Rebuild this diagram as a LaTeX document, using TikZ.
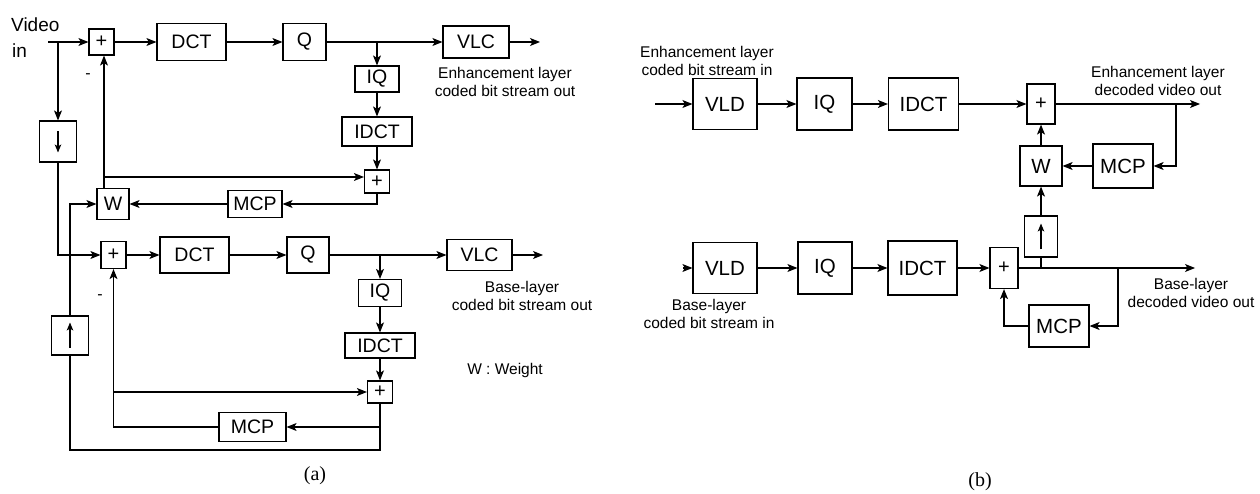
\documentclass[tikz,border=0pt]{standalone}
\usepackage{fontspec}
\setmainfont{Liberation Sans}
\newfontfamily\capfont{Liberation Serif}
\usetikzlibrary{arrows.meta,calc}
\begin{document}
\begin{tikzpicture}[x=1pt,y=-1pt,
  box/.style={draw,line width=1.2pt,inner sep=0pt,font=\fontsize{19.5}{22}\selectfont},
  boxb/.style={box,font=\fontsize{20.5}{23}\selectfont},
  pl/.style={box,font=\fontsize{20}{22}\selectfont},
  sz/.style 2 args={minimum width=#1pt,minimum height=#2pt},
  ln/.style={line width=1.1pt},
  arr/.style={ln,-{Stealth[length=10pt,width=8pt,inset=2.5pt]}},
  sarr/.style={ln,-{Stealth[length=8pt,width=6.5pt,inset=2pt]}},
  lbl/.style={align=center,font=\fontsize{15.5}{18.5}\selectfont,inner sep=0pt},
  captext/.style={font=\capfont\fontsize{20}{24}\selectfont,inner sep=0pt}]
\useasboundingbox[fill=white] (0,0) rectangle (1260,494);

% ---------------- panel (a) ----------------
\node[anchor=base west,inner sep=0pt,font=\fontsize{19}{22}\selectfont] (vid) at (11,32) {Video};
\node[anchor=base west,inner sep=0pt,font=\fontsize{19}{22}\selectfont] (vin) at (12,58) {in};

\node[pl,sz={25}{26}] (plusA1) at (101.5,42) {+};
\node[box,sz={69}{37}] (dctA1) at (191.5,42) {DCT};
\node[box,sz={43}{37}] (qA1) at (304.5,42) {Q};
\node[box,sz={66}{32}] (vlcA1) at (476,42) {VLC};
\node[box,sz={44}{26}] (iqA1) at (377,79) {IQ};
\node[box,sz={70}{29}] (idctA1) at (377,131.5) {IDCT};
\node[pl,sz={25}{23}] (plusA2) at (377,181.5) {+};
\node[box,sz={32}{31}] (wA) at (113,204) {W};
\node[box,sz={54}{27}] (mcpA1) at (255,204) {MCP};
\node[box,sz={37}{41}] (dsA) at (58,141.5) {};
\node[box,sz={37}{39}] (usA) at (70,335.5) {};

\node[pl,sz={25}{27}] (plusA3) at (113.5,255) {+};
\node[box,sz={69}{36}] (dctA2) at (194.5,255) {DCT};
\node[box,sz={42}{36}] (qA2) at (308,255) {Q};
\node[box,sz={65}{31}] (vlcA2) at (479.5,255) {VLC};
\node[box,sz={43}{27}] (iqA2) at (380,293) {IQ};
\node[box,sz={70}{25}] (idctA2) at (380,345.5) {IDCT};
\node[pl,sz={25}{22}] (plusA4) at (380,392) {+};
\node[box,sz={67}{29}] (mcpA2) at (252.5,427) {MCP};

\node[inner sep=0pt,font=\fontsize{16}{18}\selectfont] (mA1) at (88,76) {-};
\node[inner sep=0pt,font=\fontsize{16}{18}\selectfont] (mA2) at (100,297) {-};

\node[lbl] (enhoutA) at (505,82) {Enhancement layer\\coded bit stream out};
\node[lbl] (baseoutA) at (522,296) {Base-layer\\coded bit stream out};
\node[lbl] (wlabel) at (505,370) {W : Weight};
\node[captext] (capA) at (315,476) {(a)};

\coordinate (inA) at (48,42);
\coordinate (brA) at (58,42);
\coordinate (outA1) at (540,42);
\coordinate (bqA1) at (377,42);
\coordinate (jW) at (104,177);
\coordinate (outA2) at (543,255);
\coordinate (bqA2) at (380,255);
\coordinate (jM) at (113.5,392);
\coordinate (jB) at (380,427);
\coordinate (cB) at (380,450);

\draw[arr] (inA) -- (plusA1);
\draw[arr] (plusA1) -- (dctA1);
\draw[arr] (dctA1) -- (qA1);
\draw[arr] (qA1) -- (vlcA1);
\draw[arr] (vlcA1) -- (outA1);
\draw[arr] (bqA1) -- (iqA1);
\draw[arr] (iqA1) -- (idctA1);
\draw[arr] (idctA1) -- (plusA2);
\draw[arr] (wA.north -| jW) -- (plusA1.south -| jW);
\draw[arr] (jW) -- (plusA2.west |- jW);
\draw[arr] (plusA2.south) |- (mcpA1.east);
\draw[arr] (mcpA1) -- (wA);
\draw[arr] (usA.north) |- (wA.west);
\draw[arr] (brA) -- (dsA.north);
\draw[arr] (dsA.south) |- (plusA3.west);
\draw[sarr] ($(dsA.center)+(0,-10)$) -- ($(dsA.center)+(0,11)$);
\draw[sarr] ($(usA.center)+(0,12)$) -- ($(usA.center)+(0,-13)$);

\draw[arr] (plusA3) -- (dctA2);
\draw[arr] (dctA2) -- (qA2);
\draw[arr] (qA2) -- (vlcA2);
\draw[arr] (vlcA2) -- (outA2);
\draw[arr] (bqA2) -- (iqA2);
\draw[arr] (iqA2) -- (idctA2);
\draw[arr] (idctA2) -- (plusA4);
\draw[arr] (jM) -- (plusA4);
\draw[arr] (mcpA2.west) -| (plusA3.south);
\draw[ln] (plusA4.south) -- (cB) -| (usA.south);
\draw[arr] (jB) -- (mcpA2.east);

% ---------------- panel (b) ----------------
\node[boxb,sz={64}{51}] (vldB1) at (725,104) {VLD};
\node[boxb,sz={55}{52}] (iqB1) at (824.5,104) {IQ};
\node[boxb,sz={70}{52}] (idctB1) at (923.5,104) {IDCT};
\node[pl,sz={28}{40}] (plusB1) at (1041,104) {+};
\node[boxb,sz={42}{40}] (wB) at (1041,166) {W};
\node[boxb,sz={60}{44}] (mcpB1) at (1123,166) {MCP};
\node[box,sz={33}{41}] (usB) at (1041,236.5) {};

\node[boxb,sz={64}{51}] (vldB2) at (725,268) {VLD};
\node[boxb,sz={54}{52}] (iqB2) at (825,268) {IQ};
\node[boxb,sz={69}{54}] (idctB2) at (922.5,268) {IDCT};
\node[pl,sz={28}{41}] (plusB2) at (1004,268) {+};
\node[boxb,sz={60}{42}] (mcpB2) at (1059,326) {MCP};

\node[lbl] (enhinB) at (707,61) {Enhancement layer\\coded bit stream in};
\node[lbl] (enhoutB) at (1158,81) {Enhancement layer\\decoded video out};
\node[lbl] (baseinB) at (709,314) {Base-layer\\coded bit stream in};
\node[lbl] (baseoutB) at (1191,293) {Base-layer\\decoded video out};
\node[captext] (capB) at (980,482) {(b)};

\coordinate (inB1) at (655,104);
\coordinate (outB1) at (1200,104);
\coordinate (jB1) at (1176,104);
\coordinate (inB2) at (683,268);
\coordinate (outB2) at (1195,268);
\coordinate (jB2) at (1041,268);
\coordinate (jB3) at (1118,268);

\draw[arr] (inB1) -- (vldB1);
\draw[arr] (vldB1) -- (iqB1);
\draw[arr] (iqB1) -- (idctB1);
\draw[arr] (idctB1) -- (plusB1);
\draw[arr] (plusB1) -- (outB1);
\draw[arr] (jB1) |- (mcpB1.east);
\draw[arr] (mcpB1) -- (wB);
\draw[arr] (wB) -- (plusB1);
\draw[arr] (usB) -- (wB);
\draw[sarr] ($(usB.center)+(0,13)$) -- ($(usB.center)+(0,-13)$);

\draw[arr] (inB2) -- (vldB2);
\draw[arr] (vldB2) -- (iqB2);
\draw[arr] (iqB2) -- (idctB2);
\draw[arr] (idctB2) -- (plusB2);
\draw[arr] (plusB2) -- (outB2);
\draw[ln] (jB2) -- (usB.south);
\draw[arr] (jB3) |- (mcpB2.east);
\draw[arr] (mcpB2.west) -| (plusB2.south);
\end{tikzpicture}
\end{document}
